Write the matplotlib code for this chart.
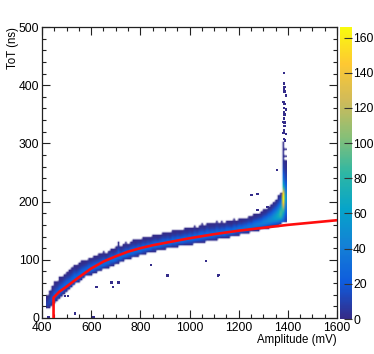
import numpy as np
import matplotlib
matplotlib.use("Agg")
import matplotlib.pyplot as plt
from matplotlib.colors import LinearSegmentedColormap
from matplotlib.cm import ScalarMappable
from matplotlib.ticker import MultipleLocator

plt.rcParams['font.family'] = ['Liberation Sans', 'DejaVu Sans']

# ---- data ----
band_amp = list(range(420, 1380, 10))
band_top = [36,44,52,60,63,68,70,75,78,80,84,90,88,92,96,97,99,102,103,105,106,108,110,112,110,114,118,117,120,128,
            122,125,128,127,131,133,132,135,134,137,136,139,138,140,142,140,143,146,145,147,145,149,148,150,149,151,
            153,152,155,153,157,155,159,160,158,163,160,162,161,165,162,164,163,166,165,164,168,166,169,168,170,171,
            173,172,176,177,179,180,184,186,190,193,198,202,208,215]
band_bot = [17,20,24,28,32,36,40,44,48,51,54,57,61,64,67,71,73,75,76,78,80,81,83,85,87,88,91,92,94,96,
            97,100,101,103,104,105,107,108,109,111,112,113,114,116,116,118,118,119,120,121,121,123,123,124,125,125,
            126,127,127,128,129,130,130,131,132,133,134,134,135,136,137,138,138,139,140,141,142,144,144,145,146,147,
            148,149,150,151,152,153,154,155,156,157,158,159,160,162]
band_peak = [10,14,18,22,24,25,26,26,27,27,28,28,28,28,28,28,28,29,29,29,29,29,29,29,29,30,30,30,30,30,
             30,30,30,30,30,30,30,30,30,30,30,30,30,30,30,30,30,30,30,30,30,30,30,30,30,30,
             30,30,30,30,30,30,30,30,30,30,31,31,31,31,31,31,32,32,32,32,32,32,33,33,33,33,
             34,34,35,36,37,38,40,42,45,48,53,60,70,90]
# share of the column peak, from the lower to the upper edge of the band
band_profile = [0.08,0.35,0.7,0.95,1.0,0.95,0.78,0.58,0.4,0.24,0.12,0.05,0.03]

spike_tot = list(range(164, 304, 4))
spike_1380 = [20,35,45,60,75,90,110,130,150,160,165,160,150,120,95,75,60,48,38,30,24,18,14,10,8,6,5,4,3,3,2,2,2,1,1]
spike_1390 = [8,12,16,20,25,30,35,40,45,50,52,50,45,40,34,28,22,18,14,11,9,7,5,3,2,1,1,0,1,0,0,1,0,0,0]

out_amp = [426,534,609,622,683,688,712,843,911,494,506,1067,1116,1118,1355,1253,1276,1277,1318,
           1385,1385,1387,1385,1387,1392,1382,1387,1385,1392,1385,1387,1385,1382,1387,1387,1385,1382,1392,1385,1388]
out_tot = [2,8,1.5,53,61,53,61,91,73,38,38,98,72,74,254,211,213,186,191,
           421,403,397,393,389,382,371,368,361,358,354,350,343,337,336,330,322,318,316,308,305]

fit_amp = [447,447,470,500,550,600,650,700,750,800,850,900,1000,1100,1200,1300,1400,1500,1600]
fit_tot = [0,35,45,54,70,85,97,106,114,120,125,129,137,144,150,155,160,164,168]

xtick_vals = [400,600,800,1000,1200,1400,1600]
ytick_vals = [0,100,200,300,400,500]
ctick_vals = [0,20,40,60,80,100,120,140,160]

# ---- ROOT "bird" palette ----
bird = list(zip(
    [0.2082,0.0592,0.0780,0.0232,0.1802,0.5301,0.8186,0.9956,0.9764],
    [0.1664,0.3599,0.5041,0.6419,0.7178,0.7492,0.7328,0.7862,0.9832],
    [0.5293,0.8684,0.8385,0.7914,0.6425,0.4662,0.3499,0.1968,0.0539]))
cmap = LinearSegmentedColormap.from_list("bird", bird, N=256)
cmap.set_bad((1, 1, 1, 0))

# ---- fill the 2D histogram ----
amp_edges = np.arange(415, 1405, 10)
tot_edges = np.arange(0, 504, 4)
H = np.zeros((len(tot_edges) - 1, len(amp_edges) - 1))
tot_centres = 0.5 * (tot_edges[1:] + tot_edges[:-1])
pos = np.linspace(0, 1, len(band_profile))
for i, (t, b, p) in enumerate(zip(band_top, band_bot, band_peak)):
    # every bin touched by the band, so its edges are not thinned by the drawing
    inside = (tot_edges[1:] >= b) & (tot_edges[:-1] <= t)
    H[inside, i] = np.maximum(1, p * np.interp((tot_centres[inside] - b) / (t - b), pos, band_profile))
for t, a, c in zip(spike_tot, spike_1380, spike_1390):
    j = np.searchsorted(tot_edges, t, side='right') - 1
    H[j, 96] = a
    H[j, 97] = c

W, Hh = 374, 354
fig = plt.figure(figsize=(W / 100, Hh / 100), dpi=100)
ax = fig.add_axes([42 / W, 1 - 318 / Hh, 295 / W, 291 / Hh])
norm = plt.Normalize(0, 166)
ax.imshow(np.ma.masked_equal(H, 0), cmap=cmap, norm=norm, origin='lower', aspect='auto',
          extent=(amp_edges[0], amp_edges[-1], tot_edges[0], tot_edges[-1]),
          interpolation='bilinear', interpolation_stage='rgba')
# isolated single-count bins
ax.scatter(out_amp, out_tot, s=3.2, marker='s', c=np.ones(len(out_amp)), cmap=cmap, norm=norm,
           linewidths=0, zorder=2)
ax.plot(fit_amp, fit_tot, color='#ff0d0d', lw=1.9, solid_joinstyle='round', zorder=3, clip_on=True)
ax.set_xlim(400, 1600)
ax.set_ylim(0, 500)
ax.set_xticks(xtick_vals)
ax.set_yticks(ytick_vals)
ax.xaxis.set_minor_locator(MultipleLocator(50))
ax.yaxis.set_minor_locator(MultipleLocator(20))
ax.tick_params(which='major', direction='in', length=5.8, width=0.8, top=True, right=True,
               labelsize=8.7, pad=2, color='#222222')
ax.tick_params(which='minor', direction='in', length=2.9, width=0.8, top=True, right=True, color='#222222')
ax.tick_params(axis='x', which='major', pad=3)
for s in ax.spines.values():
    s.set_linewidth(0.9)
    s.set_color('#222222')
fig.text(337 / W, 1 - 340 / Hh, "Amplitude (mV)", ha='right', va='center', fontsize=8.3)
fig.text(13 / W, 1 - 27 / Hh, "ToT (ns)", ha='center', va='top', rotation=90, fontsize=8.3)

cax = fig.add_axes([340 / W, 1 - 319 / Hh, 12 / W, 292 / Hh])
cb = fig.colorbar(ScalarMappable(norm=norm, cmap=cmap), cax=cax)
cb.set_ticks(ctick_vals)
cb.outline.set_visible(False)
cax.tick_params(direction='in', length=6, width=0.8, labelsize=8.7, pad=0.8, color='#333333')
cax.minorticks_off()

fig.savefig("out.png", dpi=100)
